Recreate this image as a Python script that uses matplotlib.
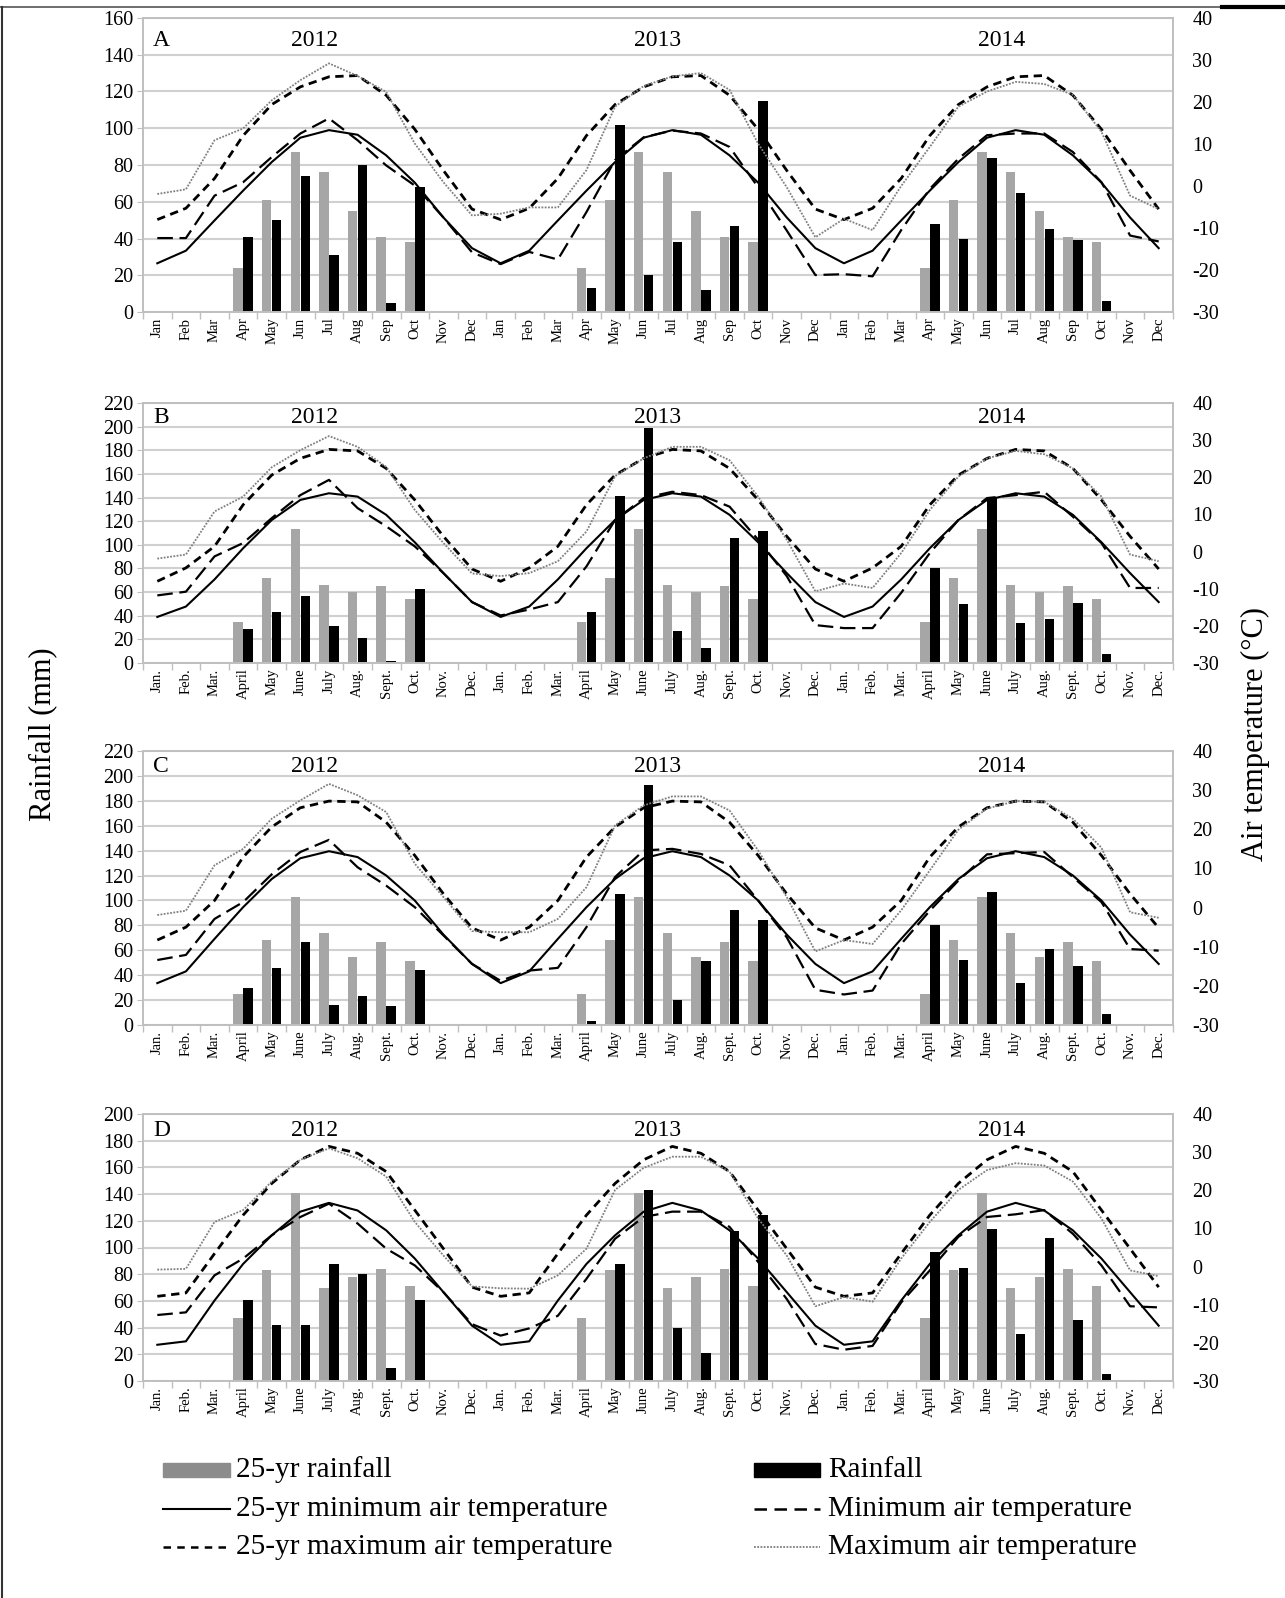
import matplotlib
matplotlib.use("Agg")
import matplotlib.pyplot as plt
import numpy as np
from matplotlib.lines import Line2D
from matplotlib.patches import Rectangle

plt.rcParams['font.family'] = ['Liberation Serif', 'DejaVu Serif']
plt.rcParams['axes.unicode_minus'] = False

# ---------------- data ----------------
months_A = ['Jan', 'Feb', 'Mar', 'Apr', 'May', 'Jun', 'Jul', 'Aug', 'Sep', 'Oct', 'Nov', 'Dec']
months_BCD = ['Jan.', 'Feb.', 'Mar.', 'April', 'May', 'June', 'July', 'Aug.', 'Sept.', 'Oct.', 'Nov.', 'Dec.']
years = ['2012', '2013', '2014']
rain_month_idx = [3, 4, 5, 6, 7, 8, 9]   # April .. October

# Panel A
rain25_A = [24, 61, 87, 76, 55, 41, 38]
rain_A = [41, 50, 74, 31, 80, 5, 68,
          13, 102, 20, 38, 12, 47, 115,
          48, 40, 84, 65, 45, 39, 6]
tmin25_A = [-18.4, -15.4, -8.2, -1.1, 5.7, 11.5, 13.3, 12.2, 7.3, 0.8, -7.5, -14.8]
tmax25_A = [-8.0, -5.3, 1.8, 12.0, 19.4, 23.6, 26.0, 26.3, 21.6, 13.5, 3.7, -5.5]
tmin_A = [-12.4, -12.4, -2.3, 0.9, 6.9, 12.5, 16.1, 10.9, 4.9, 0.1, -7.5, -15.8,
          -18.6, -15.7, -17.5, -6.2, 6.2, 11.6, 13.2, 12.5, 9.3, -0.3, -10.6, -21.2,
          -21.0, -21.5, -10.5, -0.7, 6.5, 12.1, 12.5, 12.5, 8.1, 0.9, -11.8, -13.2]
tmax_A = [-1.9, -0.8, 10.9, 13.7, 20.4, 25.2, 29.2, 26.2, 22.4, 10.1, 0.9, -7.0,
          -6.6, -5.1, -5.1, 3.8, 18.9, 23.8, 26.1, 26.9, 22.9, 10.1, -0.3, -12.2,
          -7.8, -10.5, 0.0, 9.3, 18.9, 22.5, 24.8, 24.3, 21.7, 12.9, -2.3, -5.5]

# Panel B
rain25_B = [35, 72, 113, 66, 60, 65, 54]
rain_B = [29, 43, 57, 31, 21, 2, 63,
          43, 141, 199, 27, 13, 106, 112,
          80, 50, 140, 34, 37, 51, 8]
tmin25_B = [-17.6, -14.8, -7.5, 0.9, 8.5, 13.9, 15.7, 14.8, 9.9, 2.5, -5.8, -13.6]
tmax25_B = [-8.0, -4.4, 1.4, 12.6, 20.6, 25.1, 27.5, 27.1, 22.4, 13.9, 4.1, -4.7]
tmin_B = [-11.8, -10.8, -1.3, 2.3, 9.0, 15.2, 19.3, 11.7, 6.8, 1.4, -5.8, -13.6,
          -17.2, -15.6, -13.6, -4.0, 8.5, 14.4, 16.1, 15.2, 12.1, 3.2, -6.6, -19.8,
          -20.6, -20.6, -11.1, -0.4, 8.5, 14.4, 15.2, 16.1, 9.4, 2.3, -9.8, -9.8]
tmax_B = [-1.9, -0.8, 10.8, 14.8, 22.7, 27.3, 31.1, 28.2, 22.8, 11.2, 2.3, -5.9,
          -6.6, -5.8, -2.6, 5.4, 20.3, 25.1, 28.2, 28.2, 24.6, 14.8, 3.2, -10.7,
          -8.6, -9.8, -0.4, 11.2, 20.2, 25.1, 27.1, 26.2, 22.4, 14.8, -0.8, -2.6]

# Panel C
rain25_C = [25, 68, 103, 74, 55, 67, 51]
rain_C = [30, 46, 67, 16, 23, 15, 44,
          3, 105, 193, 20, 51, 92, 84,
          80, 52, 107, 34, 61, 47, 9]
tmin25_C = [-19.3, -16.3, -8.0, 0.1, 7.3, 12.6, 14.4, 12.9, 8.2, 1.8, -6.9, -14.4]
tmax25_C = [-8.3, -5.0, 1.8, 12.9, 20.6, 25.5, 27.2, 27.0, 21.8, 13.3, 3.5, -5.2]
tmin_C = [-13.4, -12.1, -2.9, 1.4, 8.5, 14.2, 17.3, 10.3, 5.6, 0.1, -7.1, -14.4,
          -18.7, -16.1, -15.4, -5.0, 7.8, 14.6, 15.0, 13.7, 10.8, 1.8, -7.6, -21.0,
          -22.2, -21.2, -9.3, -0.8, 6.9, 13.6, 13.9, 14.2, 7.8, 1.4, -10.6, -11.0]
tmax_C = [-1.9, -0.8, 10.8, 15.0, 22.7, 27.4, 31.6, 28.7, 24.4, 11.2, 2.7, -6.0,
          -6.3, -6.3, -2.9, 5.2, 21.0, 26.1, 28.4, 28.4, 24.8, 14.6, 2.7, -11.2,
          -8.3, -9.3, -0.7, 9.5, 19.9, 25.3, 27.2, 27.0, 22.7, 15.3, -1.2, -2.6]

# Panel D
rain25_D = [47, 83, 141, 70, 78, 84, 71]
rain_D = [61, 42, 42, 88, 80, 10, 61,
          0, 88, 143, 40, 21, 112, 124,
          97, 85, 114, 35, 107, 46, 5]
tmin25_D = [-20.5, -19.6, -8.9, 0.7, 8.2, 14.4, 16.7, 14.7, 9.5, 2.1, -6.7, -15.5]
tmax25_D = [-7.8, -6.9, 3.4, 13.5, 21.8, 28.0, 31.5, 29.7, 24.9, 14.8, 4.7, -5.4]
tmin_D = [-12.7, -12.0, -2.3, 2.1, 8.2, 13.0, 16.5, 11.3, 4.7, 0.3, -6.7, -15.1,
          -18.1, -16.2, -12.9, -3.2, 7.3, 13.0, 14.4, 14.4, 10.4, 1.2, -8.5, -20.3,
          -21.8, -20.8, -9.4, -1.0, 7.8, 13.0, 13.7, 14.8, 8.6, 0.3, -10.4, -10.7]
tmax_D = [-0.8, -0.6, 11.7, 14.8, 22.3, 28.0, 31.0, 28.4, 23.6, 11.7, 2.9, -5.2,
          -5.7, -5.8, -2.3, 4.7, 20.1, 25.9, 28.8, 28.8, 24.9, 12.6, 2.9, -10.4,
          -8.0, -9.2, 2.1, 11.7, 20.1, 25.3, 27.1, 26.5, 22.3, 12.6, -1.0, -2.5]

panels = [
    dict(label='A', months=months_A, rain25=rain25_A, rain=rain_A, tmin25=tmin25_A, tmax25=tmax25_A,
         tmin=tmin_A, tmax=tmax_A, ymax=160, yrect=(18, 312), yearpos=0.925),
    dict(label='B', months=months_BCD, rain25=rain25_B, rain=rain_B, tmin25=tmin25_B, tmax25=tmax25_B,
         tmin=tmin_B, tmax=tmax_B, ymax=220, yrect=(403, 663), yearpos=0.945),
    dict(label='C', months=months_BCD, rain25=rain25_C, rain=rain_C, tmin25=tmin25_C, tmax25=tmax25_C,
         tmin=tmin_C, tmax=tmax_C, ymax=220, yrect=(751, 1025), yearpos=0.945),
    dict(label='D', months=months_BCD, rain25=rain25_D, rain=rain_D, tmin25=tmin25_D, tmax25=tmax25_D,
         tmin=tmin_D, tmax=tmax_D, ymax=200, yrect=(1114, 1381), yearpos=0.94),
]

# ---------------- styles ----------------
W, H = 1285, 1598
GRID = '#d0d0d0'
SPINE = '#bfbfbf'
GRAYBAR = '#a6a6a6'
LS_MIN25 = dict(color='black', lw=1.5, linestyle='-')
LS_MAX25 = dict(color='black', lw=2.0, linestyle=(0, (3, 2)))
LS_MIN = dict(color='black', lw=1.6, linestyle=(0, (7, 3)))
LS_MAX = dict(color='#7f7f7f', lw=1.3, linestyle=(0, (1, 0.8)))

fig = plt.figure(figsize=(W / 100, H / 100), dpi=100)

x_left, x_right = 143, 1173
n = 36
x = np.arange(n)
bw = 0.33

for p in panels:
    top, bot = p['yrect']
    ax = fig.add_axes([x_left / W, 1 - bot / H, (x_right - x_left) / W, (bot - top) / H])
    ax2 = ax.twinx()

    # bars
    gx, bx, gv, bv = [], [], [], []
    for yi in range(3):
        for k, mi in enumerate(rain_month_idx):
            pos = yi * 12 + mi
            gx.append(pos - bw / 2 - 0.01)
            bx.append(pos + bw / 2 + 0.01)
            gv.append(p['rain25'][k])
            bv.append(p['rain'][yi * 7 + k])
    ax.bar(gx, gv, width=bw, color=GRAYBAR, zorder=2)
    ax.bar(bx, bv, width=bw, color='black', zorder=2)

    ax.set_xlim(-0.5, n - 0.5)
    ax.set_ylim(0, p['ymax'])
    ax.set_yticks(np.arange(0, p['ymax'] + 1, 20))
    ax.yaxis.grid(True, color=GRID, lw=1.5, zorder=0)
    ax.set_axisbelow(True)

    # temperature lines
    tmin25 = np.tile(p['tmin25'], 3)
    tmax25 = np.tile(p['tmax25'], 3)
    ax2.plot(x, tmin25, **LS_MIN25, zorder=3)
    ax2.plot(x, tmax25, **LS_MAX25, zorder=3)
    ax2.plot(x, p['tmin'], **LS_MIN, zorder=3)
    ax2.plot(x, p['tmax'], **LS_MAX, zorder=3)
    ax2.set_ylim(-30, 40)
    ax2.set_yticks(np.arange(-30, 41, 10))

    # x ticks
    ax.set_xticks(x)
    ax.set_xticklabels(p['months'] * 3, rotation=90, fontsize=10.5)
    ax.set_xticks(np.arange(-0.5, n, 1), minor=True)
    ax.tick_params(axis='x', which='major', length=0, pad=4)
    ax.tick_params(axis='x', which='minor', length=5, color=SPINE, width=1)
    ax.tick_params(axis='y', length=4, color=SPINE, labelsize=14.5, pad=3)
    ax2.tick_params(axis='y', length=0, labelsize=14.5, pad=14)

    for a in (ax, ax2):
        for s in a.spines.values():
            s.set_color(SPINE)
            s.set_linewidth(1.2)

    # annotations
    for yi, yr in enumerate(years):
        ax.text(5.5 + 12 * yi, p['yearpos'], yr, transform=ax.get_xaxis_transform(),
                ha='center', va='center', fontsize=17)
    ax.text(-0.15, p['yearpos'], p['label'], transform=ax.get_xaxis_transform(),
            ha='left', va='center', fontsize=17)

# axis titles
fig.text(43 / W, 1 - 734 / H, 'Rainfall (mm)', rotation=90, ha='center', va='center', fontsize=22)
fig.text(1255 / W, 1 - 734 / H, 'Air temperature (\u00b0C)', rotation=90, ha='center', va='center', fontsize=22)

# legend
rows = [1470, 1509, 1547]
lx0, lx1, ltx = 163, 230, 236
rx0, rx1, rtx = 754, 820, 828
fs_leg = 21.2


def fy(v):
    return 1 - v / H


fig.add_artist(Rectangle((lx0 / W, fy(rows[0] + 7)), (lx1 - lx0) / W, 14 / H,
                         transform=fig.transFigure, color='#8c8c8c'))
fig.add_artist(Rectangle((rx0 / W, fy(rows[0] + 7)), (rx1 - rx0) / W, 14 / H,
                         transform=fig.transFigure, color='black'))
fig.add_artist(Line2D([lx0 / W, lx1 / W], [fy(rows[1])] * 2, transform=fig.transFigure, **LS_MIN25))
fig.add_artist(Line2D([lx0 / W, lx1 / W], [fy(rows[2])] * 2, transform=fig.transFigure,
                      color='black', lw=1.8, linestyle=(0, (3, 2.5))))
fig.add_artist(Line2D([rx0 / W, rx1 / W], [fy(rows[1])] * 2, transform=fig.transFigure,
                      color='black', lw=1.8, linestyle=(0, (5, 3))))
fig.add_artist(Line2D([rx0 / W, rx1 / W], [fy(rows[2])] * 2, transform=fig.transFigure, **LS_MAX))

leg_labels = [('25-yr rainfall', 'Rainfall'),
              ('25-yr minimum air temperature', 'Minimum air temperature'),
              ('25-yr maximum air temperature', 'Maximum air temperature')]
for r, (ltxt, rtxt) in zip(rows, leg_labels):
    fig.text(ltx / W, fy(r), ltxt, ha='left', va='center', fontsize=fs_leg)
    fig.text(rtx / W, fy(r), rtxt, ha='left', va='center', fontsize=fs_leg)

# outer frame lines
fig.add_artist(Line2D([0, 1222 / W], [fy(7)] * 2, transform=fig.transFigure, color='#555555', lw=1.2))
fig.add_artist(Line2D([1222 / W, 1], [fy(7)] * 2, transform=fig.transFigure, color='black', lw=3))
fig.add_artist(Line2D([1.5 / W, 1.5 / W], [0, fy(7)], transform=fig.transFigure, color='#333333', lw=1.5))

fig.savefig('out.png', dpi=100)
